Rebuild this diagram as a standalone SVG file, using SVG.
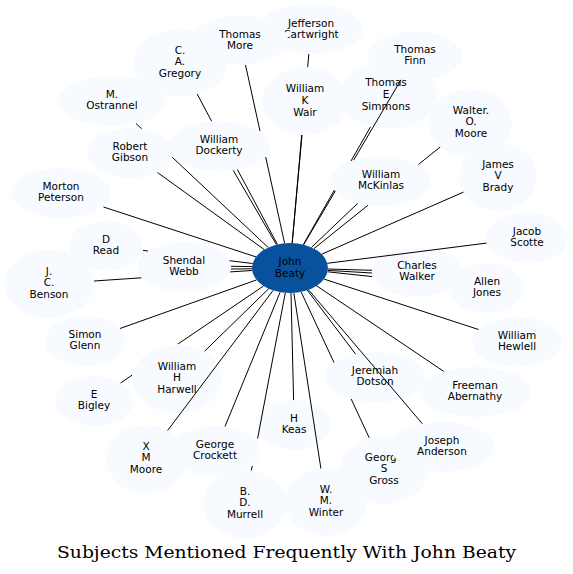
<svg xmlns="http://www.w3.org/2000/svg" width="573" height="574" viewBox="0 0 573 574">
<style>
.n ellipse{fill:#f7fbff;stroke:none}
.c ellipse{fill:#08519c;stroke:none}
text{font-family:"DejaVu Sans","Liberation Sans",sans-serif;font-size:10.5px;fill:#000;text-anchor:middle}
.title{font-family:"DejaVu Serif","Liberation Serif",serif;font-size:17px}
#edges path{fill:none;stroke:#000;stroke-width:1}
</style>
<rect width="573" height="574" fill="#fff"/>
<g id="nodes">
<g id="jefferson" class="n"><ellipse cx="311" cy="29" rx="52" ry="25"/><text x="311" y="26.5">Jefferson</text><text x="311" y="38">Cartwright</text></g>
<g id="thomas-more" class="n"><ellipse cx="240" cy="40" rx="48" ry="25"/><text x="240" y="37.5">Thomas</text><text x="240" y="49">More</text></g>
<g id="gregory" class="n"><ellipse cx="180" cy="63" rx="47" ry="34"/><text x="180" y="53.5">C.</text><text x="180" y="65.3">A.</text><text x="180" y="77">Gregory</text></g>
<g id="ostrannel" class="n"><ellipse cx="112" cy="101" rx="53" ry="25"/><text x="112" y="97.8">M.</text><text x="112" y="109.4">Ostrannel</text></g>
<g id="gibson" class="n"><ellipse cx="130" cy="153" rx="43" ry="25"/><text x="130" y="149.8">Robert</text><text x="130" y="161.4">Gibson</text></g>
<g id="dockerty" class="n"><ellipse cx="219" cy="146" rx="51" ry="25"/><text x="219" y="142.6">William</text><text x="219" y="154.2">Dockerty</text></g>
<g id="peterson" class="n"><ellipse cx="61" cy="193" rx="50" ry="25"/><text x="61" y="189.8">Morton</text><text x="61" y="201.4">Peterson</text></g>
<g id="read" class="n"><ellipse cx="106" cy="246" rx="37" ry="25"/><text x="106" y="242.8">D</text><text x="106" y="254.4">Read</text></g>
<g id="benson" class="n"><ellipse cx="49" cy="284" rx="45" ry="34"/><text x="49" y="274.5">J.</text><text x="49" y="286.3">C.</text><text x="49" y="298">Benson</text></g>
<g id="webb" class="n"><ellipse cx="184" cy="267" rx="47" ry="25"/><text x="184" y="263.8">Shendal</text><text x="184" y="275.4">Webb</text></g>
<g id="glenn" class="n"><ellipse cx="85" cy="341" rx="40" ry="25"/><text x="85" y="337.8">Simon</text><text x="85" y="349.4">Glenn</text></g>
<g id="harwell" class="n"><ellipse cx="177" cy="379" rx="45" ry="34"/><text x="177" y="369.5">William</text><text x="177" y="381.3">H</text><text x="177" y="393">Harwell</text></g>
<g id="bigley" class="n"><ellipse cx="94" cy="401" rx="39" ry="25"/><text x="94" y="397.8">E</text><text x="94" y="409.4">Bigley</text></g>
<g id="xmmoore" class="n"><ellipse cx="146" cy="459" rx="40" ry="34"/><text x="146" y="449.5">X</text><text x="146" y="461.3">M</text><text x="146" y="473">Moore</text></g>
<g id="crockett" class="n"><ellipse cx="215" cy="451" rx="45" ry="25"/><text x="215" y="447.8">George</text><text x="215" y="459.4">Crockett</text></g>
<g id="murrell" class="n"><ellipse cx="245" cy="504" rx="42" ry="34"/><text x="245" y="494.5">B.</text><text x="245" y="506.3">D.</text><text x="245" y="518">Murrell</text></g>
<g id="keas" class="n"><ellipse cx="294" cy="425" rx="37" ry="25"/><text x="294" y="421.8">H</text><text x="294" y="433.4">Keas</text></g>
<g id="winter" class="n"><ellipse cx="326" cy="502" rx="41" ry="34"/><text x="326" y="492.5">W.</text><text x="326" y="504.3">M.</text><text x="326" y="516">Winter</text></g>
<g id="gross" class="n"><ellipse cx="384" cy="470" rx="44" ry="34"/><text x="384" y="460.5">George</text><text x="384" y="472.3">S</text><text x="384" y="484">Gross</text></g>
<g id="anderson" class="n"><ellipse cx="442" cy="447" rx="52" ry="25"/><text x="442" y="443.8">Joseph</text><text x="442" y="455.4">Anderson</text></g>
<g id="dotson" class="n"><ellipse cx="375" cy="377" rx="50" ry="25"/><text x="375" y="373.8">Jeremiah</text><text x="375" y="385.4">Dotson</text></g>
<g id="abernathy" class="n"><ellipse cx="475" cy="392" rx="56" ry="25"/><text x="475" y="388.8">Freeman</text><text x="475" y="400.4">Abernathy</text></g>
<g id="hewlell" class="n"><ellipse cx="517" cy="342" rx="45" ry="25"/><text x="517" y="338.8">William</text><text x="517" y="350.4">Hewlell</text></g>
<g id="jones" class="n"><ellipse cx="487" cy="288" rx="37" ry="25"/><text x="487" y="284.8">Allen</text><text x="487" y="296.4">Jones</text></g>
<g id="walker" class="n"><ellipse cx="417" cy="272" rx="45" ry="25"/><text x="417" y="268.8">Charles</text><text x="417" y="280.4">Walker</text></g>
<g id="scotte" class="n"><ellipse cx="527" cy="238" rx="41" ry="25"/><text x="527" y="234.8">Jacob</text><text x="527" y="246.4">Scotte</text></g>
<g id="brady" class="n"><ellipse cx="498" cy="177" rx="39" ry="34"/><text x="498" y="167.5">James</text><text x="498" y="179.3">V</text><text x="498" y="191">Brady</text></g>
<g id="walter-moore" class="n"><ellipse cx="470" cy="123" rx="42" ry="34"/><text x="471" y="113.5">Walter.</text><text x="471" y="125.3">O.</text><text x="471" y="137">Moore</text></g>
<g id="mckinlas" class="n"><ellipse cx="381" cy="181" rx="50" ry="25"/><text x="381" y="177.8">William</text><text x="381" y="189.4">McKinlas</text></g>
<g id="finn" class="n"><ellipse cx="415" cy="56" rx="47" ry="25"/><text x="415" y="52.8">Thomas</text><text x="415" y="64.4">Finn</text></g>
<g id="simmons" class="n"><ellipse cx="388" cy="96" rx="49" ry="33"/><text x="386" y="86.3">Thomas</text><text x="386" y="98">E</text><text x="386" y="109.8">Simmons</text></g>
<g id="wair" class="n"><ellipse cx="305" cy="101" rx="43" ry="34"/><text x="305" y="92">William</text><text x="305" y="103.8">K</text><text x="305" y="115.5">Wair</text></g>
<g id="john-beaty" class="c"><ellipse cx="290" cy="268" rx="38" ry="25"/><text x="290" y="265">John</text><text x="290" y="276.6">Beaty</text></g>
</g>
<g id="edges">
<path d="M292.2,243.1 L302,135"/>
<path d="M292.2,243 L301.7,135 M307.7,67 L308.8,54"/>
<path d="M284.6,243.3 L265.7,157 M260,131 L245.5,65"/>
<path d="M277.4,244.4 L237.4,169.5 M211.6,121.2 L197.2,94"/>
<path d="M276.4,244.6 L233.2,170.3"/>
<path d="M268.2,247.5 L172.3,157.3 M141.7,128.8 L136,123.5"/>
<path d="M264.3,249.6 L157.5,172.5"/>
<path d="M256,256.9 L103.5,207"/>
<path d="M252.6,263.5 L229.5,260.7 M148,251 L143,250.4"/>
<path d="M252.4,266.6 L231,266.3"/>
<path d="M252.3,268.8 L231,269"/>
<path d="M252.2,270.5 L230.2,271.9 M141.5,277.8 L94,281"/>
<path d="M256.6,279.9 L120,328.5"/>
<path d="M268.7,288.7 L204.6,351.2"/>
<path d="M263.5,286 L178,344 M132,375.2 L120.6,383"/>
<path d="M273.1,290.4 L167.6,430.5"/>
<path d="M280.1,292.2 L225,426.5"/>
<path d="M285.3,292.8 L257.6,438.5 M252.3,466 L251.3,470.5"/>
<path d="M291,293 L293.6,400"/>
<path d="M293.8,292.9 L320.9,468.5"/>
<path d="M301.1,291.9 L334,362.5 M351.2,399 L369.2,437.8"/>
<path d="M307.3,290.2 L355.5,354"/>
<path d="M308.5,289.8 L422.3,423.7"/>
<path d="M316.6,285.8 L443.8,371.4"/>
<path d="M324.1,279.1 L478.5,329.5"/>
<path d="M327.6,271.8 L372.2,276.6"/>
<path d="M328,269 L372,270.3"/>
<path d="M327.9,270.4 L372,273"/>
<path d="M327.3,263.3 L486.5,243.1"/>
<path d="M321.7,254.2 L463.5,192.1"/>
<path d="M314,248.6 L368,205.2 M418.4,164.5 L440.2,147"/>
<path d="M311.5,247.4 L357.7,203.3"/>
<path d="M303.3,244.6 L334.4,190 M351,161 L370.5,126.8"/>
<path d="M303.7,244.7 L335.3,191 M353.6,160.2 L401,79.8"/>
</g>
<text class="title" x="286.5" y="558" textLength="459" lengthAdjust="spacingAndGlyphs">Subjects Mentioned Frequently With John Beaty</text>
</svg>
